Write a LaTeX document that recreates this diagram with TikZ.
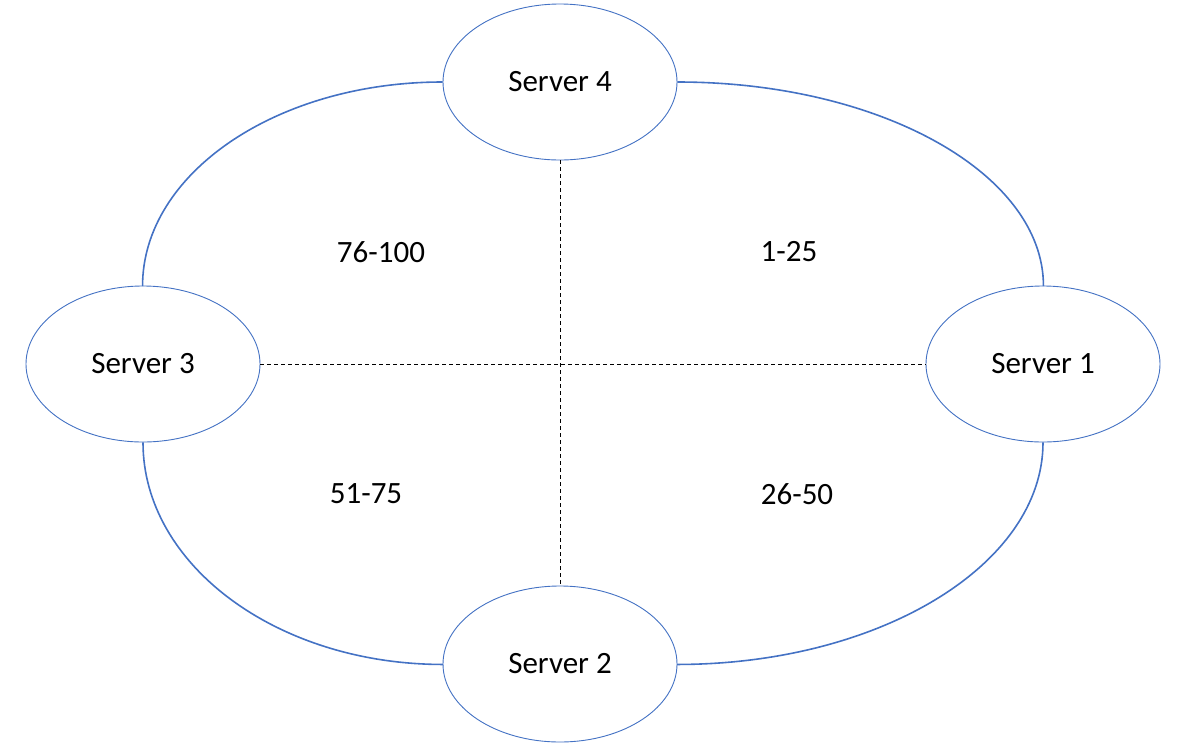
\documentclass[tikz,border=0pt]{standalone}
\usepackage{fontspec}
\setmainfont{Carlito}
\usetikzlibrary{shapes.geometric}
\definecolor{ringblue}{RGB}{68,114,196}
\begin{document}
\begin{tikzpicture}[x=1pt,y=-1pt,
  serverbox/.style={ellipse,draw=ringblue,line width=0.9pt,fill=white,
    minimum width=234pt,minimum height=156pt,inner sep=0pt,
    font=\fontsize{31}{37}\selectfont},
  ringline/.style={draw=ringblue,line width=1.6pt},
  splitline/.style={draw=black,line width=0.9pt,dash pattern=on 4pt off 3pt},
  rangelabel/.style={font=\fontsize{31}{37}\selectfont}]
\useasboundingbox (0,0) rectangle (1192,748);
\node[serverbox] (s4) at (560,82) {Server 4};
\node[serverbox] (s3) at (143,364) {Server 3};
\node[serverbox] (s2) at (560,664) {Server 2};
\node[serverbox] (s1) at (1043,364) {Server 1};
% ring
\draw[ringline] (s4.west) arc[start angle=90,end angle=180,x radius=300,y radius=-204];
\draw[ringline] (s4.east) arc[start angle=90,end angle=0,x radius=366,y radius=-204];
\draw[ringline] (s1.south) arc[start angle=0,end angle=-90,x radius=366,y radius=-222];
\draw[ringline] (s3.south) arc[start angle=180,end angle=270,x radius=300,y radius=-222];
% splits
\draw[splitline] (s4.south) -- (s2.north);
\draw[splitline] (s3.east) -- (s1.west);
% ranges
\node[rangelabel] (r1) at (789,252) {1-25};
\node[rangelabel] (r2) at (797,494) {26-50};
\node[rangelabel] (r3) at (366,494) {51-75};
\node[rangelabel] (r4) at (381,252) {76-100};
\end{tikzpicture}
\end{document}
